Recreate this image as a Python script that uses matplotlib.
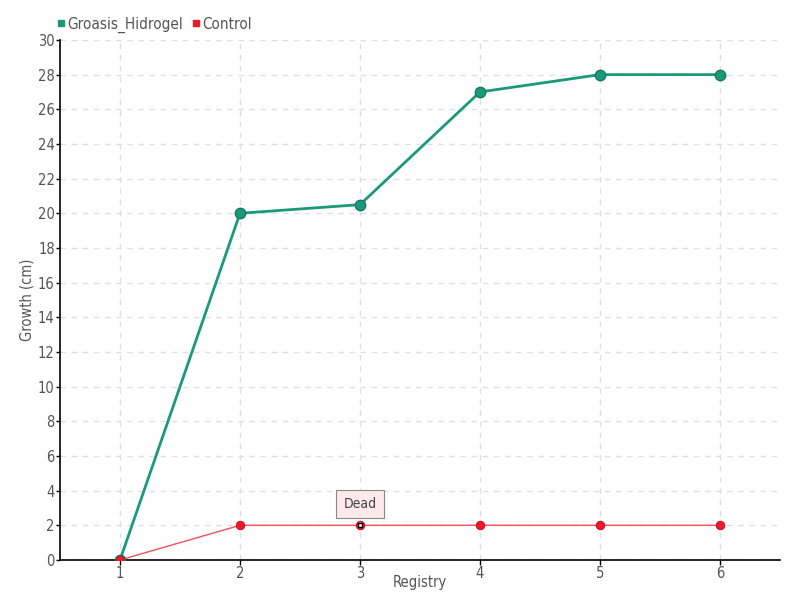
import matplotlib
matplotlib.use("Agg")
import matplotlib.pyplot as plt
from matplotlib.lines import Line2D

plt.rcParams['font.family'] = ['DejaVu Sans']
plt.rcParams['font.stretch'] = 'condensed'

registry = [1, 2, 3, 4, 5, 6]
groasis = [0, 20, 20.5, 27, 28, 28]
control = [0, 2, 2, 2, 2, 2]
y_ticks = list(range(0, 31, 2))

green = '#1a9a7a'
red = '#f0192a'
txt = '#555555'

fig = plt.figure(figsize=(8, 6), dpi=100)
ax = fig.add_axes([0.075, 0.0667, 0.9, 0.8667])

ax.plot(registry, groasis, color=green, lw=2, zorder=3)
ax.plot(registry, groasis, 'o', color=green, ms=7.5, mec='#167a60', mew=1, zorder=4)
ax.plot(registry, control, color='#f2505e', lw=1, zorder=3)
ax.plot(registry, control, 'o', color=red, ms=6, mec='#d01020', mew=0.8, zorder=5)
# highlighted "Dead" point
ax.plot([registry[2]], [control[2]], 's', color='white', ms=3.5, mec='black', mew=1, zorder=6)
ax.annotate('Dead', xy=(registry[2], control[2]), xytext=(0, 15.5), textcoords='offset points',
            ha='center', va='center', fontsize=10, color='#444444',
            bbox=dict(boxstyle='square,pad=0.5', fc='#fde9ea', ec='#888888', lw=0.8),
            arrowprops=dict(arrowstyle='-', color='#888888', lw=0.8), zorder=7)

ax.set_xlim(0.5, 6.5)
ax.set_ylim(0, 30)
ax.set_xticks(registry)
ax.set_yticks(y_ticks)
ax.tick_params(labelsize=10.5, labelcolor=txt, length=3, width=1, color='black', pad=0.8)
ax.tick_params(axis='x', pad=0.5, length=3.5)
ax.grid(True, ls=(0, (4, 4)), color='#e0e0e0', lw=1)
ax.set_axisbelow(True)
for s in ['top', 'right']:
    ax.spines[s].set_visible(False)
ax.spines['left'].set_linewidth(1.2)
ax.spines['bottom'].set_linewidth(1.2)
ax.set_xlabel('Registry', fontsize=10.5, color=txt, labelpad=-4)
ax.set_ylabel('Growth (cm)', fontsize=10.5, color=txt, labelpad=2)

handles = [Line2D([], [], ls='', marker='s', color=green, ms=4.5),
           Line2D([], [], ls='', marker='s', color=red, ms=4.5)]
fig.legend(handles, ['Groasis_Hidrogel', 'Control'], loc='upper left',
           bbox_to_anchor=(0.053, 0.995), ncol=2, frameon=False, fontsize=11,
           handletextpad=0.05, columnspacing=0.5, handlelength=0.7, labelcolor=txt)

fig.savefig('out.png', dpi=100)
